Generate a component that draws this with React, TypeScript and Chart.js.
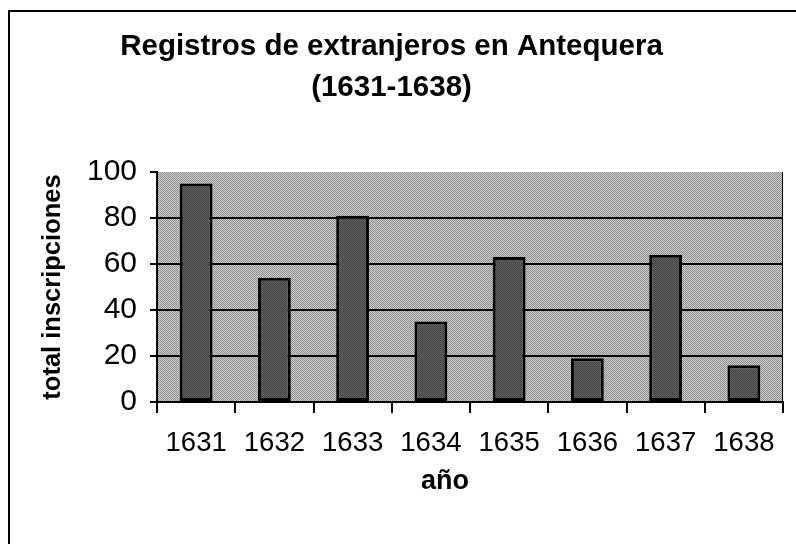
import React, { useEffect, useRef } from "react";
import { Chart, registerables } from "chart.js";

Chart.register(...registerables);

const years = ["1631", "1632", "1633", "1634", "1635", "1636", "1637", "1638"];
const registros = [95, 54, 81, 35, 63, 19, 64, 16];
const titleLines = ["Registros de extranjeros en Antequera", "(1631-1638)"];
const yTitle = "total inscripciones";
const xTitle = "año";
const yMin = 0;
const yMax = 100;
const yStep = 20;

const FONT = "'Liberation Sans', Arial, Helvetica, sans-serif";

function makePattern(a: string, b: string): CanvasPattern | string {
  const c = document.createElement("canvas");
  c.width = 2;
  c.height = 2;
  const g = c.getContext("2d");
  if (!g) return a;
  g.fillStyle = a;
  g.fillRect(0, 0, 2, 2);
  g.fillStyle = b;
  g.fillRect(0, 0, 1, 1);
  g.fillRect(1, 1, 1, 1);
  const p = g.createPattern(c, "repeat");
  return p || a;
}

export default function App() {
  const ref = useRef<HTMLCanvasElement | null>(null);

  useEffect(() => {
    const canvas = ref.current;
    if (!canvas) return;
    const plotBg = makePattern("#cacaca", "#929292");
    const barFill = makePattern("#626262", "#434343");

    const framePlugin = {
      id: "frame",
      beforeDraw(chart: any) {
        const { ctx, chartArea } = chart;
        ctx.save();
        ctx.fillStyle = "#ffffff";
        ctx.fillRect(0, 0, chart.width, chart.height);
        ctx.fillStyle = plotBg as any;
        ctx.fillRect(chartArea.left, chartArea.top, chartArea.right - chartArea.left, chartArea.bottom - chartArea.top);
        ctx.strokeStyle = "#000";
        ctx.lineWidth = 2;
        ctx.beginPath();
        ctx.moveTo(9, chart.height);
        ctx.lineTo(9, 11);
        ctx.lineTo(chart.width, 11);
        ctx.stroke();
        ctx.restore();
      },
      afterDraw(chart: any) {
        const { ctx, chartArea } = chart;
        ctx.save();
        ctx.fillStyle = "#000";
        ctx.font = `bold 27px ${FONT}`;
        ctx.textAlign = "center";
        ctx.textBaseline = "middle";
        ctx.fillText(xTitle, 445, 482);
        ctx.strokeStyle = "#000";
        ctx.lineWidth = 1;
        ctx.beginPath();
        ctx.moveTo(chartArea.right - 0.5, chartArea.top);
        ctx.lineTo(chartArea.right - 0.5, chartArea.bottom);
        ctx.stroke();
        ctx.restore();
      },
    };

    const chart = new Chart(canvas, {
      type: "bar",
      data: {
        labels: years,
        datasets: [
          {
            label: yTitle,
            data: registros,
            backgroundColor: barFill as any,
            borderColor: "#000",
            borderWidth: 3,
            borderSkipped: false,
            barPercentage: 0.42,
            categoryPercentage: 1,
          },
        ],
      },
      options: {
        animation: false,
        responsive: false,
        maintainAspectRatio: false,
        devicePixelRatio: 1,
        layout: { padding: { left: 0, right: 13, top: 0, bottom: 0 } },
        plugins: {
          legend: { display: false },
          tooltip: { enabled: false },
          title: {
            display: true,
            text: titleLines,
            color: "#000",
            font: { family: FONT, size: 29.5, weight: "bold", lineHeight: 41 / 29.5 },
            padding: { top: 26.5, bottom: 63.5 },
          },
        },
        scales: {
          x: {
            grid: {
              display: true,
              drawOnChartArea: false,
              drawTicks: true,
              tickLength: 11,
              color: "#000",
              lineWidth: 2,
              offset: true,
            },
            border: { display: true, color: "#000", width: 2 },
            ticks: {
              color: "#000",
              font: { family: FONT, size: 27.5 },
              padding: 14,
              maxRotation: 0,
              autoSkip: false,
            },
            afterFit(scale: any) {
              scale.height = 142;
            },
          },
          y: {
            min: yMin,
            max: yMax,
            grid: {
              color: (c: any) => (c.tick && c.tick.value === yMax ? "rgba(0,0,0,0)" : "#000"),
              tickColor: "#000",
              lineWidth: 2,
              tickLength: 7,
              drawTicks: true,
            },
            border: { display: true, color: "#000", width: 2 },
            ticks: {
              stepSize: yStep,
              color: "#000",
              font: { family: FONT, size: 30 },
              padding: 13,
            },
            title: {
              display: true,
              text: yTitle,
              color: "#000",
              font: { family: FONT, size: 25.5, weight: "bold", lineHeight: 1.2 },
              padding: { top: 38, bottom: 0 },
            },
            afterFit(scale: any) {
              scale.width = 157;
            },
          },
        },
      },
      plugins: [framePlugin],
    });
    return () => chart.destroy();
  }, []);

  return (
    <div style={{ position: "fixed", left: 0, top: 0, width: 796, height: 544, background: "#fff" }}>
      <canvas ref={ref} width={796} height={544} style={{ width: 796, height: 544, display: "block" }} />
    </div>
  );
}
